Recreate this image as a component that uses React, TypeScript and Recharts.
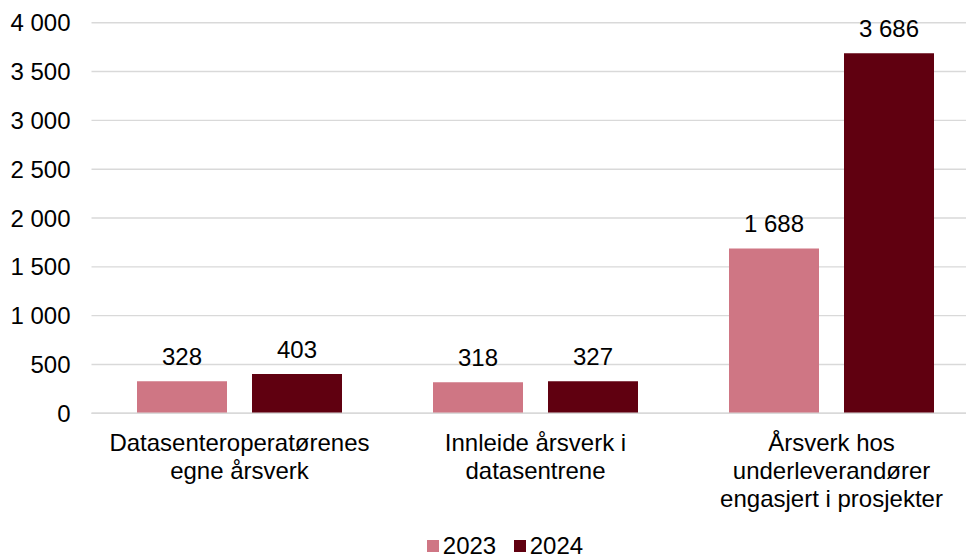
import React from "react";
import { BarChart, Bar, XAxis, YAxis, CartesianGrid, LabelList, Legend } from "recharts";

const categories = [
  "Datasenteroperatørenes\negne årsverk",
  "Innleide årsverk i\ndatasentrene",
  "Årsverk hos\nunderleverandører\nengasjert i prosjekter",
];
const values2023 = [328, 318, 1688];
const values2024 = [403, 327, 3686];
const seriesNames = ["2023", "2024"];
const yTicks = [0, 500, 1000, 1500, 2000, 2500, 3000, 3500, 4000];

const COLORS = ["#CF7684", "#600010"];
const FONT = "'Liberation Sans', Arial, sans-serif";
const FS = 24;

const data = categories.map((c, i) => ({
  name: c,
  v2023: values2023[i],
  v2024: values2024[i],
}));

const fmt = (v: number) => {
  const s = String(Math.round(v));
  return s.replace(/\B(?=(\d{3})+(?!\d))/g, " ");
};

const CatTick = (props: any) => {
  const { x, y, payload } = props;
  const lines = String(payload.value).split("\n");
  return (
    <text x={x} y={y + 38} textAnchor="middle" fontSize={FS} fontFamily={FONT} fill="#000">
      {lines.map((l: string, i: number) => (
        <tspan key={i} x={x} dy={i === 0 ? 0 : 28}>
          {l}
        </tspan>
      ))}
    </text>
  );
};

const renderLegend = () => (
  <div style={{ display: "flex", alignItems: "center", fontFamily: FONT, fontSize: FS, color: "#000", lineHeight: "22px" }}>
    {seriesNames.map((n, i) => (
      <div key={n} style={{ display: "flex", alignItems: "center", marginRight: i === 0 ? 17.5 : 0 }}>
        <div style={{ width: 12.6, height: 12.6, background: COLORS[i], marginRight: 3.5 }} />
        <span>{n}</span>
      </div>
    ))}
  </div>
);

export default function App() {
  return (
    <div style={{ position: "absolute", left: 0, top: 0, width: 966, height: 557, overflow: "hidden", background: "#fff" }}>
      <BarChart
        width={980}
        height={557}
        data={data}
        margin={{ top: 22.7, right: 0.5, left: 0, bottom: 43.7 }}
        barGap={25}
        barCategoryGap={45.5}
      >
        <CartesianGrid vertical={false} stroke="#D9D9D9" strokeWidth={1.4} />
        <XAxis
          dataKey="name"
          axisLine={{ stroke: "#D9D9D9", strokeWidth: 1.4 }}
          tickLine={false}
          tickSize={0}
          tickMargin={0}
          height={100}
          tick={<CatTick />}
          interval={0}
        />
        <YAxis
          domain={[0, 4000]}
          ticks={yTicks}
          width={91.5}
          axisLine={false}
          tickLine={false}
          tickSize={0}
          tickMargin={21}
          tickFormatter={fmt}
          tick={{ fontSize: FS, fontFamily: FONT, fill: "#000" }}
        />
        <Legend
          layout="horizontal"
          verticalAlign="middle"
          align="center"
          content={renderLegend}
          wrapperStyle={{ position: "absolute", left: 426.7, top: 535, width: 200, height: 22 }}
        />
        <Bar dataKey="v2023" name={seriesNames[0]} fill={COLORS[0]} isAnimationActive={false}>
          <LabelList dataKey="v2023" position="top" offset={16} formatter={(v: any) => fmt(Number(v))} style={{ fontSize: FS, fontFamily: FONT, fill: "#000" }} />
        </Bar>
        <Bar dataKey="v2024" name={seriesNames[1]} fill={COLORS[1]} isAnimationActive={false}>
          <LabelList dataKey="v2024" position="top" offset={16} formatter={(v: any) => fmt(Number(v))} style={{ fontSize: FS, fontFamily: FONT, fill: "#000" }} />
        </Bar>
      </BarChart>
    </div>
  );
}
